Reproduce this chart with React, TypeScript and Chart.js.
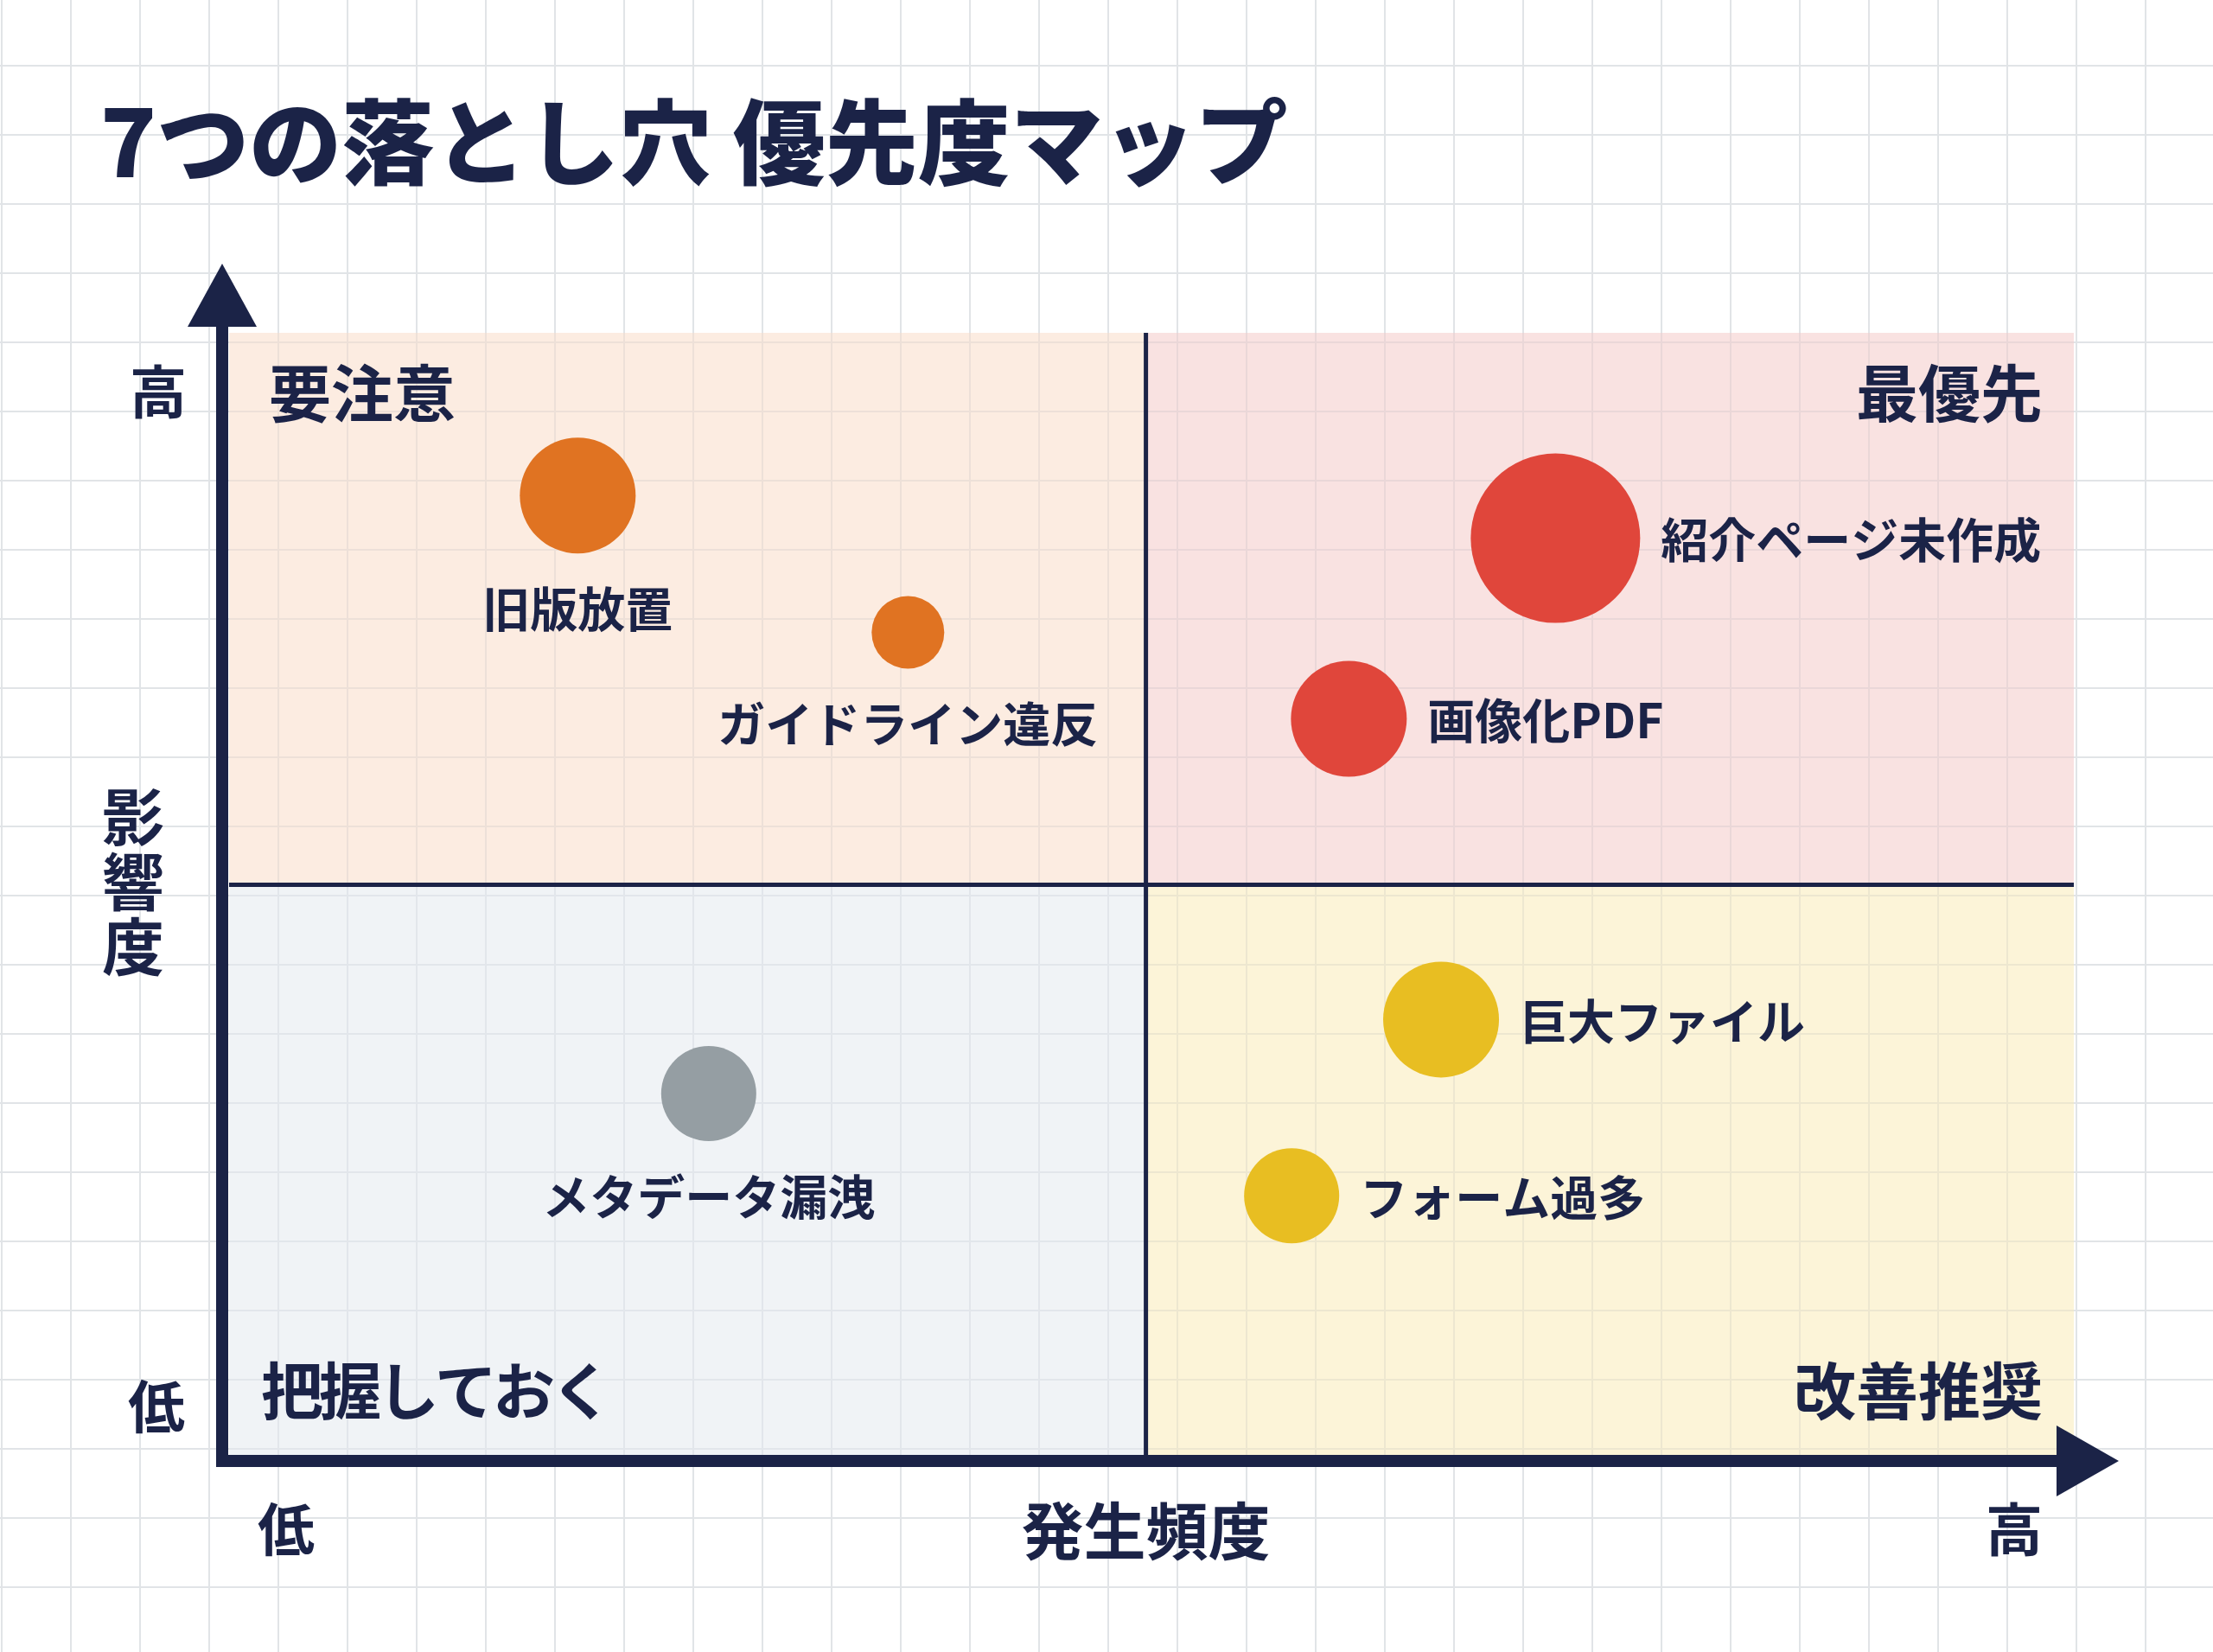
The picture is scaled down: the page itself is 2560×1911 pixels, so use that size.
import React, { useEffect, useRef } from "react";
import { Chart, registerables } from "chart.js";

Chart.register(...registerables);

// ---- data ----
const TITLE = "7つの落とし穴 優先度マップ";
const ITEMS = ["旧版放置", "ガイドライン違反", "紹介ページ未作成", "画像化PDF", "巨大ファイル", "フォーム過多", "メタデータ漏洩"];
const FREQUENCY = [1.89, 3.68, 7.19, 6.07, 6.57, 5.76, 2.6];
const IMPACT = [8.55, 7.33, 8.17, 6.56, 3.88, 2.31, 3.22];
const BUBBLE_SIZE = [67, 42, 98, 67, 67, 55, 55];
const BUBBLE_COLORS = ["#e07322", "#e07322", "#e0463b", "#e0463b", "#e8be22", "#e8be22", "#959ea3"];
const LABEL_SIDE = ["below", "below", "right", "right", "right", "right", "below"];
const QUADRANT_LABELS = ["要注意", "最優先", "把握しておく", "改善推奨"]; // TL, TR, BL, BR
const QUADRANT_COLORS = ["#fcece1", "#f9e2e1", "#f0f3f6", "#fcf4d8"];
const X_AXIS_TITLE = "発生頻度";
const Y_AXIS_TITLE = "影響度";
const AXIS_LOW = "低";
const AXIS_HIGH = "高";
const X_SPLIT = 4.97;
const Y_SPLIT = 5.08;

const NAVY = "#1b2347";
const FONT = '"Noto Sans CJK JP", "Noto Sans", sans-serif';

function drawGrid(ctx: any, W: number, H: number, color: string) {
  ctx.strokeStyle = color;
  ctx.lineWidth = 2;
  ctx.beginPath();
  for (let x = 2; x < W; x += 80) {
    ctx.moveTo(x, 0);
    ctx.lineTo(x, H);
  }
  for (let y = -4; y < H; y += 80) {
    ctx.moveTo(0, y);
    ctx.lineTo(W, y);
  }
  ctx.stroke();
}

const decorPlugin = {
  id: "decor",
  beforeDraw(chart: any) {
    const { ctx, chartArea: ca, scales } = chart;
    const W = chart.width;
    const H = chart.height;
    const xs = scales.x.getPixelForValue(X_SPLIT);
    const ys = scales.y.getPixelForValue(Y_SPLIT);
    ctx.save();
    ctx.fillStyle = "#ffffff";
    ctx.fillRect(0, 0, W, H);
    drawGrid(ctx, W, H, "rgba(120,130,145,0.22)");
    // quadrants
    ctx.fillStyle = QUADRANT_COLORS[0];
    ctx.fillRect(ca.left, ca.top, xs - ca.left, ys - ca.top);
    ctx.fillStyle = QUADRANT_COLORS[1];
    ctx.fillRect(xs, ca.top, ca.right - xs, ys - ca.top);
    ctx.fillStyle = QUADRANT_COLORS[2];
    ctx.fillRect(ca.left, ys, xs - ca.left, ca.bottom - ys);
    ctx.fillStyle = QUADRANT_COLORS[3];
    ctx.fillRect(xs, ys, ca.right - xs, ca.bottom - ys);
    // faint grid inside the quadrants
    ctx.save();
    ctx.beginPath();
    ctx.rect(ca.left, ca.top, ca.right - ca.left, ca.bottom - ca.top);
    ctx.clip();
    drawGrid(ctx, W, H, "rgba(120,130,145,0.11)");
    ctx.restore();
    // split lines
    ctx.strokeStyle = NAVY;
    ctx.lineWidth = 5;
    ctx.beginPath();
    ctx.moveTo(xs, ca.top);
    ctx.lineTo(xs, ca.bottom);
    ctx.moveTo(ca.left, ys);
    ctx.lineTo(ca.right, ys);
    ctx.stroke();
    // axes with arrows
    const ax = ca.left - 8;
    const ay = ca.bottom + 7;
    ctx.fillStyle = NAVY;
    ctx.fillRect(ax - 7, ca.top - 8, 14, ay + 7 - (ca.top - 8));
    ctx.beginPath();
    ctx.moveTo(ax, ca.top - 80);
    ctx.lineTo(ax - 40, ca.top - 7);
    ctx.lineTo(ax + 40, ca.top - 7);
    ctx.closePath();
    ctx.fill();
    ctx.fillRect(ax - 7, ay - 7, ca.right - 19 - (ax - 7), 14);
    ctx.beginPath();
    ctx.moveTo(ca.right + 52, ay);
    ctx.lineTo(ca.right - 20, ay - 41);
    ctx.lineTo(ca.right - 20, ay + 41);
    ctx.closePath();
    ctx.fill();
    ctx.restore();
  },
  afterDraw(chart: any) {
    const { ctx, chartArea: ca, scales } = chart;
    const xs = scales.x.getPixelForValue(X_SPLIT);
    ctx.save();
    ctx.fillStyle = NAVY;
    ctx.textBaseline = "middle";
    // title
    ctx.font = `900 107px ${FONT}`;
    ctx.textAlign = "left";
    ctx.fillText(TITLE, 116, 164);
    // quadrant labels
    ctx.font = `700 72px ${FONT}`;
    ctx.textAlign = "left";
    ctx.fillText(QUADRANT_LABELS[0], ca.left + 46, ca.top + 70);
    ctx.save();
    ctx.letterSpacing = "-5px";
    ctx.fillText(QUADRANT_LABELS[2], ca.left + 37, ca.bottom - 74);
    ctx.restore();
    ctx.textAlign = "right";
    ctx.fillText(QUADRANT_LABELS[1], ca.right - 36, ca.top + 70);
    ctx.fillText(QUADRANT_LABELS[3], ca.right - 36, ca.bottom - 74);
    // axis labels
    ctx.font = `700 66px ${FONT}`;
    ctx.textAlign = "center";
    ctx.fillText(AXIS_HIGH, ca.left - 82, ca.top + 68);
    ctx.fillText(AXIS_LOW, ca.left - 84, ca.bottom - 56);
    ctx.fillText(AXIS_LOW, ca.left + 66, ca.bottom + 86);
    ctx.fillText(AXIS_HIGH, ca.right - 69, ca.bottom + 86);
    ctx.font = `700 72px ${FONT}`;
    ctx.fillText(X_AXIS_TITLE, xs, ca.bottom + 88);
    const chars = Array.from(Y_AXIS_TITLE);
    const midY = scales.y.getPixelForValue(Y_SPLIT) - 4;
    chars.forEach((c, i) => {
      ctx.fillText(c, ca.left - 111, midY + (i - (chars.length - 1) / 2) * 75);
    });
    // bubble labels
    ctx.font = `700 55px ${FONT}`;
    const meta = chart.getDatasetMeta(0);
    meta.data.forEach((el: any, i: number) => {
      const r = BUBBLE_SIZE[i];
      if (LABEL_SIDE[i] === "below") {
        ctx.textAlign = "center";
        ctx.fillText(ITEMS[i], el.x, el.y + r + 64);
      } else {
        ctx.textAlign = "left";
        ctx.fillText(ITEMS[i], el.x + r + 24, el.y + 2);
      }
    });
    ctx.restore();
  },
};

export default function App() {
  const ref = useRef<HTMLCanvasElement | null>(null);
  useEffect(() => {
    document.body.style.margin = "0";
    document.body.style.overflow = "hidden";
    const canvas = ref.current!;
    const chart = new Chart(canvas, {
      type: "bubble",
      data: {
        datasets: [
          {
            label: "落とし穴",
            data: ITEMS.map((_, i) => ({ x: FREQUENCY[i], y: IMPACT[i], r: BUBBLE_SIZE[i] })),
            backgroundColor: BUBBLE_COLORS,
            borderWidth: 0,
          },
        ],
      },
      options: {
        responsive: false,
        animation: false,
        devicePixelRatio: 1,
        events: [],
        layout: { padding: { left: 265, right: 2560 - 2399, top: 385, bottom: 1911 - 1683 } },
        scales: {
          x: { type: "linear", min: 0, max: 10, display: false },
          y: { type: "linear", min: 0, max: 10, display: false },
        },
        plugins: { legend: { display: false }, tooltip: { enabled: false }, title: { display: false } },
      },
      plugins: [decorPlugin],
    } as any);
    return () => chart.destroy();
  }, []);
  return <canvas ref={ref} width={2560} height={1911} style={{ display: "block", width: 2560, height: 1911 }} />;
}
